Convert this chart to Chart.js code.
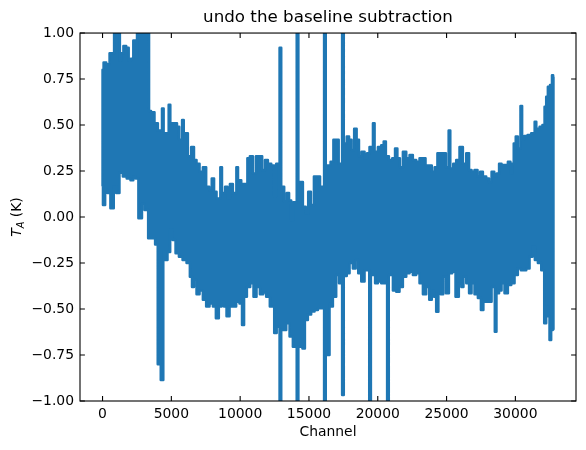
<!DOCTYPE html>
<html>
<head>
<meta charset="utf-8">
<title>undo the baseline subtraction</title>
<script src="https://cdn.jsdelivr.net/npm/chart.js@4.4.1/dist/chart.umd.min.js"></script>
<style>
    html, body { margin: 0; padding: 0; background: #ffffff; }
    #wrap { width: 586px; height: 450px; }
</style>
</head>
<body>
<div id="wrap"><canvas id="spectrumChart" width="586" height="450"></canvas></div>
<script>
// Upper edge of the noisy spectrum (channel, T_A in K)
var upperChannel = [0, 150, 390, 630, 820, 860, 1240, 1280, 1430, 1600,
    1840, 1960, 2150, 2320, 2450, 2560, 3360, 3400, 3650, 3900,
    4140, 4300, 4340, 4420, 4460, 4620, 4785, 4825, 4905, 4945,
    5110, 5350, 5470, 5670, 5760, 5800, 5880, 5920, 6080, 6320,
    6560, 6730, 6930, 7170, 7410, 7650, 7850, 8020, 8190, 8380,
    8540, 8580, 8660, 8700, 8820, 8990, 9160, 9350, 9590, 9705,
    9745, 9825, 9865, 9960, 10200, 10440, 10610, 10800, 11050, 11240,
    11480, 11720, 11890, 12140, 12380, 12570, 12670, 12845, 12885, 12965,
    13005, 13100, 13300, 13470, 13640, 13780, 13930, 14090, 14130, 14210,
    14250, 14440, 14680, 14850, 15040, 15240, 15480, 15720, 15890, 16080,
    16120, 16200, 16240, 16450, 16690, 16860, 17100, 17220, 17390, 17430,
    17510, 17550, 17660, 17830, 18000, 18190, 18380, 18550, 18720, 18920,
    19160, 19280, 19520, 19630, 19670, 19750, 19790, 19890, 20130, 20370,
    20490, 20690, 20930, 21170, 21340, 21510, 21700, 21950, 22190, 22430,
    22670, 22910, 23160, 23350, 23590, 23840, 24010, 24250, 24420, 24610,
    24850, 25050, 25130, 25170, 25250, 25290, 25390, 25580, 25820, 26060,
    26310, 26550, 26720, 26910, 27150, 27350, 27520, 27760, 28000, 28170,
    28370, 28560, 28730, 28900, 29090, 29330, 29580, 29700, 29820, 29940,
    30110, 30250, 30350, 30390, 30470, 30510, 30540, 30740, 31030, 31270,
    31380, 31420, 31500, 31540, 31640, 31880, 32050, 32190, 32290, 32430,
    32600, 32720, 32767];
var upperTA = [0.80, 0.84, 0.83, 0.89, 0.89, 1.2, 1.2, 0.85, 0.89, 0.93,
    0.92, 0.85, 0.86, 0.96, 0.87, 1.2, 1.2, 0.576, 0.57, 0.51,
    0.47, 0.47, 0.59, 0.59, 0.455, 0.455, 0.455, 0.61, 0.61, 0.51,
    0.51, 0.51, 0.49, 0.42, 0.42, 0.527, 0.527, 0.455, 0.455, 0.33,
    0.38, 0.31, 0.29, 0.246, 0.27, 0.165, 0.147, 0.21, 0.138, 0.10,
    0.10, 0.27, 0.27, 0.13, 0.13, 0.165, 0.10, 0.18, 0.13, 0.13,
    0.27, 0.27, 0.20, 0.20, 0.18, 0.18, 0.32, 0.33, 0.237, 0.33,
    0.33, 0.255, 0.31, 0.29, 0.28, 0.11, 0.29, 0.29, 0.92, 0.92,
    0.165, 0.165, 0.083, 0.13, 0.09, -0.016, 0.08, 0.08, 1.2, 1.2,
    0.19, 0.19, 0.056, 0.02, 0.138, 0.065, 0.22, 0.22, 0.165, 0.165,
    1.2, 1.2, 0.28, 0.28, 0.30, 0.42, 0.42, 0.29, 0.29, 1.2,
    1.2, 0.40, 0.40, 0.437, 0.42, 0.364, 0.48, 0.42, 0.33, 0.355,
    0.32, 0.346, 0.38, 0.38, 0.51, 0.51, 0.355, 0.355, 0.38, 0.39,
    0.41, 0.33, 0.31, 0.32, 0.373, 0.32, 0.27, 0.355, 0.32, 0.337,
    0.31, 0.30, 0.32, 0.32, 0.28, 0.28, 0.246, 0.27, 0.346, 0.346,
    0.346, 0.27, 0.27, 0.47, 0.47, 0.264, 0.264, 0.29, 0.31, 0.38,
    0.29, 0.346, 0.255, 0.246, 0.255, 0.22, 0.246, 0.22, 0.21, 0.19,
    0.246, 0.22, 0.237, 0.29, 0.283, 0.283, 0.30, 0.237, 0.29, 0.40,
    0.437, 0.373, 0.373, 0.603, 0.603, 0.42, 0.42, 0.44, 0.446, 0.455,
    0.455, 0.518, 0.518, 0.48, 0.48, 0.49, 0.50, 0.60, 0.654, 0.708,
    0.717, 0.77, 0.76];

// Lower edge of the noisy spectrum
var lowerChannel = [0, 60, 120, 260, 460, 680, 760, 870, 1110, 1350,
    1600, 1910, 2150, 2320, 2490, 2720, 2800, 2930, 3170, 3460,
    3700, 3940, 4080, 4200, 4260, 4380, 4450, 4620, 4820, 5010,
    5180, 5430, 5670, 5960, 6250, 6440, 6560, 6730, 6930, 7170,
    7410, 7650, 7900, 8140, 8330, 8570, 8740, 8910, 9110, 9350,
    9590, 9830, 10070, 10200, 10370, 10610, 10850, 11090, 11290, 11580,
    11770, 12010, 12300, 12380, 12570, 12740, 12845, 12885, 12965, 13005,
    13230, 13470, 13710, 13950, 14090, 14130, 14210, 14250, 14440, 14610,
    14800, 15040, 15280, 15530, 15770, 16080, 16120, 16200, 16240, 16450,
    16540, 16620, 16860, 17100, 17270, 17390, 17430, 17510, 17550, 17660,
    17830, 18070, 18310, 18480, 18680, 18920, 19160, 19360, 19400, 19480,
    19520, 19720, 19890, 20130, 20370, 20660, 20700, 20780, 20820, 20980,
    21220, 21460, 21700, 21950, 22190, 22430, 22670, 22910, 23160, 23400,
    23640, 23840, 24010, 24170, 24320, 24490, 24660, 24850, 25050, 25290,
    25530, 25770, 26010, 26140, 26310, 26550, 26720, 26910, 27150, 27400,
    27590, 27760, 28000, 28170, 28370, 28485, 28525, 28605, 28645, 28730,
    28900, 29090, 29330, 29580, 29820, 30060, 30300, 30500, 30670, 30910,
    31150, 31320, 31510, 31760, 32000, 32190, 32290, 32430, 32530, 32670,
    32767];
var lowerTA = [0.17, 0.065, 0.065, 0.147, 0.13, 0.047, 0.047, 0.165, 0.13, 0.24,
    0.22, 0.21, 0.20, 0.22, 0.21, -0.007, -0.007, 0.074, 0.038, -0.116,
    -0.116, -0.15, -0.80, -0.80, -0.886, -0.886, -0.19, -0.234, -0.19, -0.07,
    -0.125, -0.197, -0.216, -0.234, -0.25, -0.324, -0.38, -0.34, -0.42, -0.40,
    -0.45, -0.487, -0.47, -0.487, -0.55, -0.487, -0.46, -0.487, -0.54, -0.487,
    -0.487, -0.46, -0.47, -0.587, -0.433, -0.38, -0.36, -0.433, -0.38, -0.42,
    -0.41, -0.433, -0.487, -0.487, -0.63, -0.596, -0.596, -1.2, -1.2, -0.614,
    -0.614, -0.578, -0.65, -0.705, -0.705, -1.2, -1.2, -0.705, -0.705, -0.714,
    -0.56, -0.53, -0.514, -0.505, -0.496, -0.496, -1.2, -1.2, -0.55, -0.75,
    -0.47, -0.487, -0.433, -0.315, -0.36, -0.36, -0.967, -0.967, -0.32, -0.32,
    -0.306, -0.25, -0.28, -0.234, -0.306, -0.35, -0.29, -0.29, -1.2, -1.2,
    -0.315, -0.315, -0.36, -0.35, -0.36, -0.36, -1.2, -1.2, -0.315, -0.315,
    -0.40, -0.406, -0.38, -0.324, -0.306, -0.297, -0.315, -0.306, -0.36, -0.42,
    -0.38, -0.45, -0.40, -0.433, -0.515, -0.415, -0.42, -0.324, -0.415, -0.306,
    -0.297, -0.433, -0.36, -0.38, -0.324, -0.36, -0.415, -0.36, -0.42, -0.44,
    -0.505, -0.46, -0.46, -0.46, -0.38, -0.38, -0.623, -0.623, -0.415, -0.415,
    -0.40, -0.36, -0.415, -0.37, -0.36, -0.315, -0.28, -0.29, -0.29, -0.28,
    -0.216, -0.16, -0.234, -0.25, -0.29, -0.578, -0.487, -0.54, -0.668, -0.614,
    -0.61];

var xTicks = [0, 5000, 10000, 15000, 20000, 25000, 30000];
var yTicks = [-1.0, -0.75, -0.5, -0.25, 0.0, 0.25, 0.5, 0.75, 1.0];

var FONT = 'DejaVu Sans';
var LINE_COLOR = '#1f77b4';

function toPoints(xs, ys) {
    return xs.map(function (c, i) { return { x: c, y: ys[i] }; });
}

// the spectrum drawn as one closed outline: along the upper edge, back along the lower edge
function spectrumOutline() {
    var pts = toPoints(upperChannel, upperTA).concat(toPoints(lowerChannel, lowerTA).reverse());
    pts.push({ x: upperChannel[0], y: upperTA[0] });
    return pts;
}

// matplotlib-like frame, inward ticks on all four sides and the T_A (K) label
var axesFrame = {
    id: 'axesFrame',
    afterDatasetsDraw: function (chart) {
        var ctx = chart.ctx;
        var a = chart.chartArea;
        var x = chart.scales.x;
        var y = chart.scales.y;
        var len = 4.9;

        ctx.save();
        ctx.strokeStyle = '#000';
        ctx.lineWidth = 1.1;
        ctx.beginPath();
        xTicks.forEach(function (v) {
            var px = x.getPixelForValue(v);
            ctx.moveTo(px, a.bottom); ctx.lineTo(px, a.bottom - len);
            ctx.moveTo(px, a.top); ctx.lineTo(px, a.top + len);
        });
        yTicks.forEach(function (v) {
            var py = y.getPixelForValue(v);
            ctx.moveTo(a.left, py); ctx.lineTo(a.left + len, py);
            ctx.moveTo(a.right, py); ctx.lineTo(a.right - len, py);
        });
        ctx.stroke();
        ctx.strokeRect(a.left, a.top, a.right - a.left, a.bottom - a.top);

        // y axis title with subscript
        ctx.translate(21, (a.top + a.bottom) / 2);
        ctx.rotate(-Math.PI / 2);
        ctx.fillStyle = '#000';
        ctx.textBaseline = 'alphabetic';
        ctx.textAlign = 'left';
        var fMain = 'italic 13.9px "' + FONT + '"';
        var fSub = 'italic 9.7px "' + FONT + '"';
        var fPlain = '13.9px "' + FONT + '"';
        ctx.font = fMain; var wT = ctx.measureText('T').width;
        ctx.font = fSub; var wA = ctx.measureText('A').width;
        ctx.font = fPlain; var wK = ctx.measureText(' (K)').width;
        var sx = -(wT + wA + wK) / 2;
        ctx.font = fMain; ctx.fillText('T', sx, 0);
        ctx.font = fSub; ctx.fillText('A', sx + wT, 3);
        ctx.font = fPlain; ctx.fillText(' (K)', sx + wT + wA, 0);
        ctx.restore();
    }
};

new Chart(document.getElementById('spectrumChart').getContext('2d'), {
    type: 'line',
    data: {
        datasets: [{
            label: 'spectrum',
            data: spectrumOutline(),
            borderColor: LINE_COLOR,
            backgroundColor: LINE_COLOR,
            borderWidth: 2.5,
            borderJoinStyle: 'round',
            borderCapStyle: 'round',
            pointRadius: 0,
            stepped: 'middle',
            fill: 'shape',
            clip: 0
        }]
    },
    options: {
        responsive: false,
        animation: false,
        devicePixelRatio: 1,
        layout: { padding: { left: 0, right: 10, top: 0, bottom: 0 } },
        plugins: {
            legend: { display: false },
            tooltip: { enabled: false },
            title: {
                display: true,
                fullSize: false,
                text: 'undo the baseline subtraction',
                color: '#000',
                font: { family: FONT, size: 16.7, weight: 'normal' },
                padding: { top: 8, bottom: 5 }
            }
        },
        scales: {
            x: {
                type: 'linear',
                min: -1638,
                max: 34405,
                afterBuildTicks: function (s) { s.ticks = xTicks.map(function (v) { return { value: v }; }); },
                afterFit: function (s) { s.height = 49; },
                ticks: {
                    autoSkip: false,
                    maxRotation: 0,
                    padding: 5,
                    color: '#000',
                    font: { family: FONT, size: 13.9 },
                    callback: function (v) { return String(v); }
                },
                grid: { display: false, drawTicks: false },
                border: { display: false },
                title: {
                    display: true,
                    text: 'Channel',
                    color: '#000',
                    font: { family: FONT, size: 13.9 },
                    padding: { top: 0, bottom: 9 }
                }
            },
            y: {
                min: -1,
                max: 1,
                afterBuildTicks: function (s) { s.ticks = yTicks.map(function (v) { return { value: v }; }); },
                afterFit: function (s) { s.width = 80; },
                ticks: {
                    padding: 6,
                    color: '#000',
                    font: { family: FONT, size: 13.9 },
                    callback: function (v) { return v.toFixed(2).replace('-', '\u2212'); }
                },
                grid: { display: false, drawTicks: false },
                border: { display: false }
            }
        }
    },
    plugins: [axesFrame]
});
</script>
</body>
</html>
